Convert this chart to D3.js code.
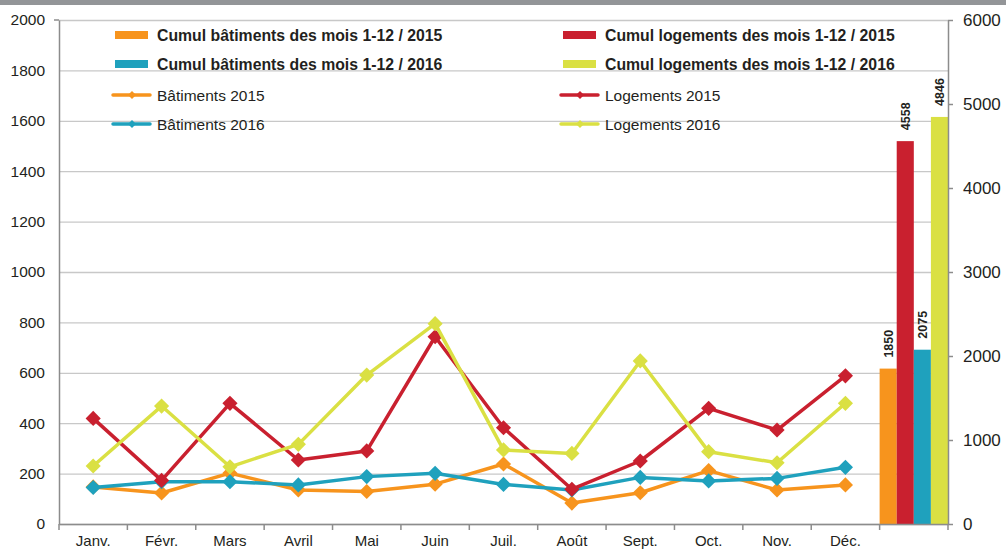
<!DOCTYPE html>
<html><head>
<meta charset="utf-8">
<script src="https://d3js.org/d3.v7.min.js"></script>
<style>
  body { margin: 0; background: #fff; }
  svg text { font-family: "Liberation Sans", Arial, sans-serif; fill: #231f20; }
  .grid line { stroke: #c8c8c8; stroke-width: 1.3; }
  .grid .domain { display: none; }
  .axis .domain, .axis line { stroke: #8c8c8c; stroke-width: 1.5; }
</style>
</head>
<body>
<svg id="chart" width="1006" height="549"></svg>
<script>
  // months on the x axis, last slot holds the yearly totals
  const months = ["Janv.", "Févr.", "Mars", "Avril", "Mai", "Juin", "Juil.", "Août", "Sept.", "Oct.", "Nov.", "Déc."];
  const cumulSlot = "cumul";

  // monthly values (left axis)
  const batiments2015 = [147, 123, 202, 135, 129, 158, 238, 83, 124, 212, 135, 155];
  const batiments2016 = [145, 168, 168, 155, 188, 201, 157, 135, 185, 171, 181, 225];
  const logements2015 = [419, 173, 479, 254, 290, 743, 382, 138, 250, 459, 373, 588];
  const logements2016 = [230, 468, 227, 316, 591, 795, 294, 280, 647, 287, 243, 479];

  // totals (right axis)
  const cumulNames = ["Cumul bâtiments des mois 1-12 / 2015", "Cumul logements des mois 1-12 / 2015",
                      "Cumul bâtiments des mois 1-12 / 2016", "Cumul logements des mois 1-12 / 2016"];
  const cumulValues = [1850, 4558, 2075, 4846];
  const cumulColors = ["#f7941d", "#c9202f", "#1fa1bd", "#dae043"];

  const lineNames = ["Bâtiments 2015", "Logements 2015", "Bâtiments 2016", "Logements 2016"];
  const lineColors = ["#f7941d", "#c9202f", "#1fa1bd", "#dae043"];
  const lineValues = [batiments2015, logements2015, batiments2016, logements2016];

  const leftTicks = [0, 200, 400, 600, 800, 1000, 1200, 1400, 1600, 1800, 2000];
  const rightTicks = [0, 1000, 2000, 3000, 4000, 5000, 6000];

  const svg = d3.select("svg#chart");
  const margin = {top: 20, left: 59, right: 58, bottom: 25};
  const width = +svg.attr("width");
  const height = +svg.attr("height");
  const right = width - margin.right;
  const bottom = height - margin.bottom;

  // grey band on top
  svg.append("rect").attr("x", 0).attr("y", 0).attr("width", width).attr("height", 5).attr("fill", "#939598");

  const x = d3.scaleBand().domain(months.concat([cumulSlot])).range([margin.left, right]).padding(0);
  const yLeft = d3.scaleLinear().domain([0, 2000]).range([bottom, margin.top]);
  const yRight = d3.scaleLinear().domain([0, 6000]).range([bottom, margin.top]);

  // gridlines
  svg.append("g").attr("class", "grid")
    .attr("transform", "translate(" + margin.left + ",0)")
    .call(d3.axisLeft(yLeft).tickValues(leftTicks).tickSize(-(right - margin.left)).tickFormat(""));

  // bars for the totals
  const inner = d3.scaleBand().domain(d3.range(cumulValues.length)).range([0, x.bandwidth()]).padding(0);
  const bars = svg.append("g");
  cumulValues.forEach((v, i) => {
    const bx = x(cumulSlot) + inner(i);
    bars.append("rect")
      .attr("x", bx).attr("width", inner.bandwidth())
      .attr("y", yRight(v)).attr("height", yRight(0) - yRight(v))
      .attr("fill", cumulColors[i]);
    const cx = bx + inner.bandwidth() / 2;
    const ty = yRight(v) - 11;
    bars.append("text")
      .attr("transform", "translate(" + (cx + 4.5) + "," + ty + ") rotate(-90)")
      .attr("font-size", 12.5).attr("font-weight", "bold")
      .text(v);
  });

  // axes
  const leftAxis = svg.append("g").attr("class", "axis")
    .attr("transform", "translate(" + margin.left + ",0)")
    .call(d3.axisLeft(yLeft).tickValues(leftTicks).tickFormat(d3.format("d")).tickSize(0).tickPadding(14).tickSizeOuter(0));
  leftAxis.selectAll("text").attr("font-size", 15.5);
  leftAxis.append("line").attr("x1", -5).attr("x2", 0).attr("y1", yLeft(2000)).attr("y2", yLeft(2000));

  const rightAxis = svg.append("g").attr("class", "axis")
    .attr("transform", "translate(" + right + ",0)")
    .call(d3.axisRight(yRight).tickValues(rightTicks).tickFormat(d3.format("d")).tickSize(5).tickPadding(10).tickSizeOuter(0));
  rightAxis.selectAll("text").attr("font-size", 17);

  const bottomAxis = svg.append("g").attr("class", "axis")
    .attr("transform", "translate(0," + bottom + ")")
    .call(d3.axisBottom(x).tickValues(months).tickSize(0).tickPadding(11).tickSizeOuter(0));
  bottomAxis.selectAll("text").attr("font-size", 15);
  bottomAxis.selectAll(".bnd")
    .data(x.domain().map(d => x(d)).concat([right]))
    .join("line").attr("class", "bnd")
    .attr("x1", d => d).attr("x2", d => d).attr("y1", 0).attr("y2", 6);

  // lines with diamond markers
  const line = d3.line().x((d, i) => x(months[i]) + x.bandwidth() / 2).y(d => yLeft(d));
  const diamond = d3.symbol().type(d3.symbolSquare).size(115);
  const order = [0, 2, 1, 3];
  order.forEach(k => {
    const g = svg.append("g");
    g.append("path").datum(lineValues[k])
      .attr("d", line).attr("fill", "none")
      .attr("stroke", lineColors[k]).attr("stroke-width", 3.5).attr("stroke-linejoin", "round");
    g.selectAll("path.mk").data(lineValues[k]).join("path").attr("class", "mk")
      .attr("d", diamond)
      .attr("transform", (d, i) => "translate(" + (x(months[i]) + x.bandwidth() / 2) + "," + yLeft(d) + ") rotate(45)")
      .attr("fill", lineColors[k]);
  });

  // legend
  const legend = svg.append("g");
  const colX = [115, 563];
  const rowY = [35, 64, 95, 124];
  // bar entries: rows 0-1, columns: bâtiments left, logements right
  const barOrder = [[0, 0, 0], [1, 1, 0], [2, 0, 1], [3, 1, 1]];
  barOrder.forEach(([i, col, row]) => {
    legend.append("rect").attr("x", colX[col]).attr("y", rowY[row] - 4)
      .attr("width", 33).attr("height", 8).attr("fill", cumulColors[i]);
    legend.append("text").attr("x", colX[col] + 42).attr("y", rowY[row] + 5.5)
      .attr("font-size", 15.8).attr("font-weight", "bold").text(cumulNames[i]);
  });
  const lineOrder = [[0, 0, 2], [1, 1, 2], [2, 0, 3], [3, 1, 3]];
  const smallDiamond = d3.symbol().type(d3.symbolSquare).size(32);
  lineOrder.forEach(([i, col, row]) => {
    legend.append("line").attr("x1", colX[col] - 2).attr("x2", colX[col] + 35)
      .attr("y1", rowY[row]).attr("y2", rowY[row])
      .attr("stroke", lineColors[i]).attr("stroke-width", 3.5).attr("stroke-linecap", "round");
    legend.append("path").attr("d", smallDiamond)
      .attr("transform", "translate(" + (colX[col] + 17) + "," + rowY[row] + ") rotate(45)")
      .attr("fill", lineColors[i]);
    legend.append("text").attr("x", colX[col] + 42).attr("y", rowY[row] + 5.5)
      .attr("font-size", 15.5).text(lineNames[i]);
  });
</script>
</body>
</html>
